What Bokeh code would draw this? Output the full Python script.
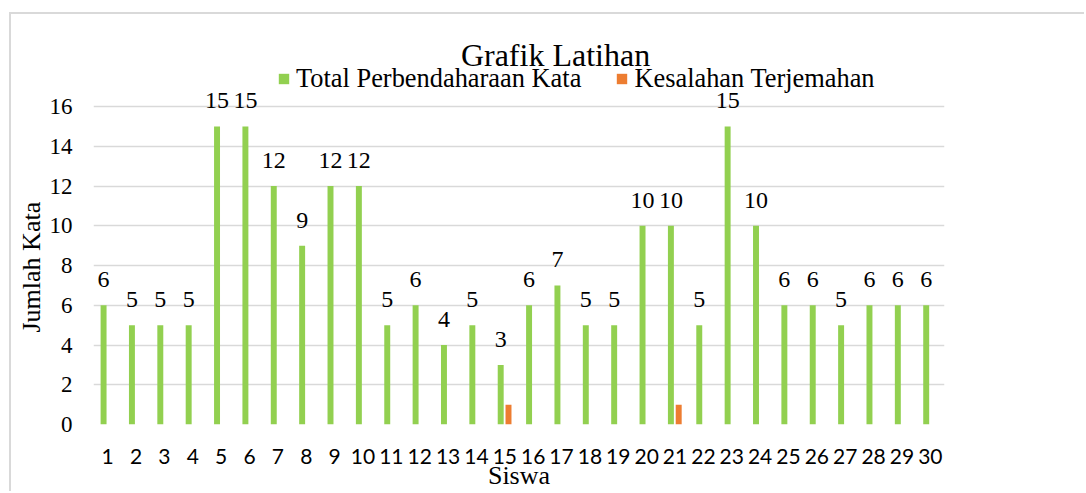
from bokeh.plotting import figure
from bokeh.models import (ColumnDataSource, FixedTicker, Legend, LegendItem,
                          LabelSet, Label, Range1d, Title)
from bokeh.transform import dodge
from bokeh.embed import file_html
from bokeh.resources import INLINE

# ---- data ----
siswa = ["1", "2", "3", "4", "5", "6", "7", "8", "9", "10",
         "11", "12", "13", "14", "15", "16", "17", "18", "19", "20",
         "21", "22", "23", "24", "25", "26", "27", "28", "29", "30"]
total_perbendaharaan = [6, 5, 5, 5, 15, 15, 12, 9, 12, 12,
                        5, 6, 4, 5, 3, 6, 7, 5, 5, 10,
                        10, 5, 15, 10, 6, 6, 5, 6, 6, 6]
kesalahan_terjemahan = [0, 0, 0, 0, 0, 0, 0, 0, 0, 0,
                        0, 0, 0, 0, 1, 0, 0, 0, 0, 0,
                        1, 0, 0, 0, 0, 0, 0, 0, 0, 0]
y_ticks = [0, 2, 4, 6, 8, 10, 12, 14, 16]
series_names = ["Total Perbendaharaan Kata", "Kesalahan Terjemahan"]
title_text = "Grafik Latihan"
x_title = "Siswa"
y_title = "Jumlah Kata"

GREEN = "#92d050"
ORANGE = "#ed7d31"
SERIF = "Liberation Serif"

# layout constants (pixels)
FRAME_H = 410          # frame covers the title/legend area too (svg clips to frame)
PLOT_H = 318           # height of the 0..16 value band
Y_TOP = y_ticks[-1] * FRAME_H / PLOT_H

xs = list(range(1, len(siswa) + 1))
src = ColumnDataSource(dict(
    x=xs,
    total=total_perbendaharaan,
    err=kesalahan_terjemahan,
    total_label=[str(v) for v in total_perbendaharaan],
))

p = figure(width=1075, height=479, title=None,
           x_range=Range1d(0.5, len(siswa) + 0.5),
           y_range=Range1d(y_ticks[0], Y_TOP),
           output_backend="svg", toolbar_location=None,
           min_border_left=82, min_border_top=0,
           min_border_right=142, min_border_bottom=69)
p.styles = {"border-top": "2px solid #d9d9d9", "border-left": "2px solid #d9d9d9"}
p.margin = (12, 0, 0, 9)
p.outline_line_color = None
p.background_fill_color = "white"
p.border_fill_color = "white"

r1 = p.vbar(x=dodge("x", -0.145), top="total", width=0.21, source=src,
            fill_color=GREEN, line_color=None)
r2 = p.vbar(x=dodge("x", 0.13), top="err", width=0.21, source=src,
            fill_color=ORANGE, line_color=None)

labels = LabelSet(x=dodge("x", -0.145), y="total", text="total_label", source=src,
                  y_offset=18, text_align="center", text_baseline="alphabetic",
                  text_font=SERIF, text_font_size="24px", text_color="#000000")
p.add_layout(labels)

# chart title (inside the frame so that it is not clipped)
title_px_from_bottom = 370
p.add_layout(Label(x=0.5 + 462 / (851 / len(siswa)),
                   y=title_px_from_bottom * y_ticks[-1] / PLOT_H,
                   text=title_text, text_align="center", text_baseline="alphabetic",
                   text_font=SERIF, text_font_size="32px", text_color="#000000"))

# axes
p.yaxis.ticker = FixedTicker(ticks=y_ticks)
p.yaxis.axis_line_color = None
p.yaxis.major_tick_line_color = None
p.yaxis.minor_tick_line_color = None
p.yaxis.major_tick_in = 0
p.yaxis.major_tick_out = 0
p.yaxis.major_label_standoff = 21
p.yaxis.major_label_text_font = SERIF
p.yaxis.major_label_text_font_size = "23px"
p.yaxis.major_label_text_color = "#000000"

# y axis title: a side title anchored at the bottom of the value band
ytitle = Title(text=y_title, align="left", offset=92, standoff=2,
               text_font=SERIF, text_font_size="26px", text_font_style="normal",
               text_color="#000000")
p.add_layout(ytitle, "left")

p.xaxis.ticker = FixedTicker(ticks=xs)
p.xaxis.major_label_overrides = {x: s for x, s in zip(xs, siswa)}
p.xaxis.axis_line_color = None
p.xaxis.major_tick_line_color = None
p.xaxis.minor_tick_line_color = None
p.xaxis.major_tick_in = 0
p.xaxis.major_tick_out = 0
p.xaxis.major_label_standoff = 24
p.xaxis.major_label_text_font = "Lato"
p.xaxis.major_label_text_font_size = "21px"
p.xaxis.major_label_text_color = "#000000"
p.xaxis.axis_label = x_title
p.xaxis.axis_label_text_font = SERIF
p.xaxis.axis_label_text_font_size = "26px"
p.xaxis.axis_label_text_font_style = "normal"
p.xaxis.axis_label_text_color = "#000000"
p.xaxis.axis_label_standoff = -6

p.xgrid.visible = False
p.ygrid.ticker = FixedTicker(ticks=y_ticks)
p.ygrid.grid_line_color = "#d9d9d9"
p.ygrid.grid_line_width = 1.5

legend = Legend(items=[LegendItem(label=series_names[0], renderers=[r1]),
                       LegendItem(label=series_names[1], renderers=[r2])],
                orientation="horizontal", location=(184, 330),
                glyph_width=13, glyph_height=13, label_standoff=6, spacing=34,
                padding=0, margin=0, border_line_color=None,
                background_fill_alpha=0,
                label_text_font=SERIF, label_text_font_size="26.4px",
                label_text_color="#000000")
p.add_layout(legend, "center")

open("out.html", "w").write(file_html(p, INLINE))
